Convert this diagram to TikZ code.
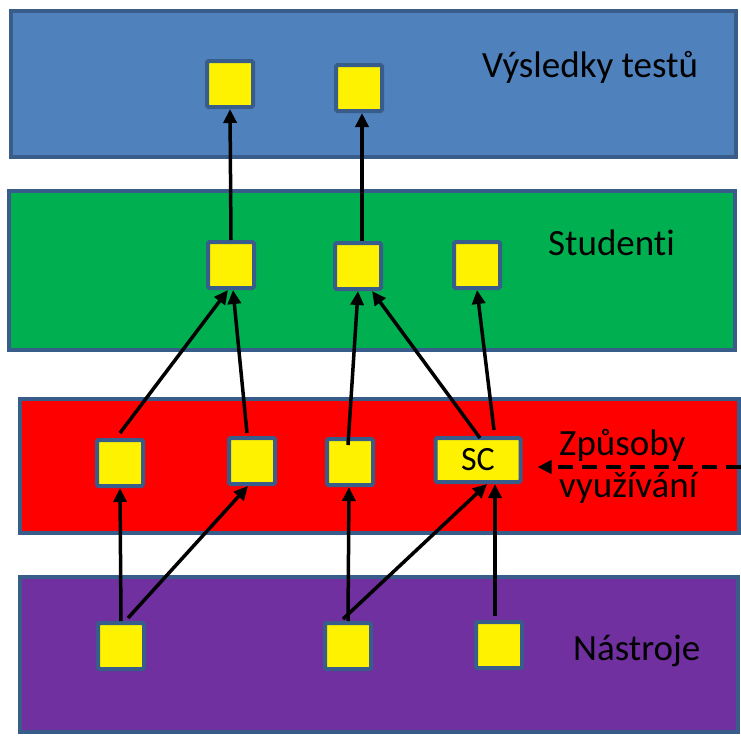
\documentclass[tikz,border=0pt]{standalone}
\usepackage{fontspec}
\setmainfont{Carlito}[Ligatures=CommonOff]
\usepackage{tikz}
\usetikzlibrary{arrows.meta}

\definecolor{layerline}{HTML}{385D8A}
\definecolor{testblue}{HTML}{4F81BD}
\definecolor{studgreen}{HTML}{00B050}
\definecolor{usered}{HTML}{FF0000}
\definecolor{toolpurple}{HTML}{7030A0}

\begin{document}
\begin{tikzpicture}[x=1pt,y=-1pt,
layer/.style={draw=layerline,line width=4pt,inner sep=0pt},
item/.style={draw=layerline,fill=yellow,line width=4pt,rounded corners=1.5pt,
  minimum width=46pt,minimum height=46pt,inner sep=0pt},
lbl/.style={font=\fontsize{37}{42}\selectfont,anchor=base west,inner sep=0pt,align=left},
link/.style={-{Triangle[length=14pt,width=13pt]},line width=3.5pt}]
\useasboundingbox (0,0) rectangle (741,736);
% layers
\node[layer,fill=testblue,minimum width=725pt,minimum height=146pt] (tests) at (373,84) {};
\node[layer,fill=studgreen,minimum width=726pt,minimum height=159pt] (students) at (372,270) {};
\node[layer,fill=usered,minimum width=719pt,minimum height=134pt] (uses) at (379.5,466) {};
\node[layer,fill=toolpurple,minimum width=718pt,minimum height=155pt] (tools) at (379,654.5) {};
\node[lbl] (testslbl) at (482,77) {Výsledky testů};
\node[lbl] (studlbl) at (548,255) {Studenti};
\node[lbl] (useslbl) at (559,497) {Způsoby\\využívání};
\node[lbl] (toolslbl) at (573,660) {Nástroje};
% items
\node[item] (top1) at (230,84) {};
\node[item] (top2) at (359,88) {};
\node[item] (green1) at (231,265) {};
\node[item] (green2) at (358,266) {};
\node[item] (green3) at (477,265) {};
\node[item] (red1) at (120,463) {};
\node[item] (red2) at (252,461) {};
\node[item] (red3) at (350,462) {};
\node[item,minimum width=85pt,minimum height=44pt,font=\fontsize{34}{38}\selectfont] (sc) at (478,460) {SC};
\node[item] (tool1) at (121,646) {};
\node[item] (tool2) at (348,646) {};
\node[item] (tool3) at (499,645) {};
\coordinate (dashend) at (741,467);
% links
\path[link]
(green1.north) edge (top1.south)
([xshift=4pt]green2.north) edge ([xshift=3pt]top2.south)
([yshift=5pt]red1.north) edge ([xshift=-3pt]green1.south)
([xshift=-5pt,yshift=3pt]red2.north) edge ([xshift=2pt]green1.south)
([xshift=-2pt,yshift=-8pt]red3.north) edge (green2.south)
([xshift=2pt,yshift=-2pt]sc.north) edge ([xshift=14pt]green2.south)
([xshift=16pt,yshift=6pt]sc.north) edge (green3.south)
(tool1.north) edge (red1.south)
([xshift=7pt,yshift=3pt]tool1.north) edge ([xshift=-4pt]red2.south)
(tool2.north) edge ([xshift=-1pt]red3.south)
([xshift=-5pt,yshift=2pt]tool2.north) edge ([xshift=9pt]sc.south)
([xshift=-4pt,yshift=4pt]tool3.north) edge ([xshift=17pt]sc.south);
\draw[link,line width=4pt,dash pattern=on 15pt off 9pt,shorten >=15pt] (dashend) -- ([yshift=-7pt]sc.east);
\end{tikzpicture}
\end{document}
